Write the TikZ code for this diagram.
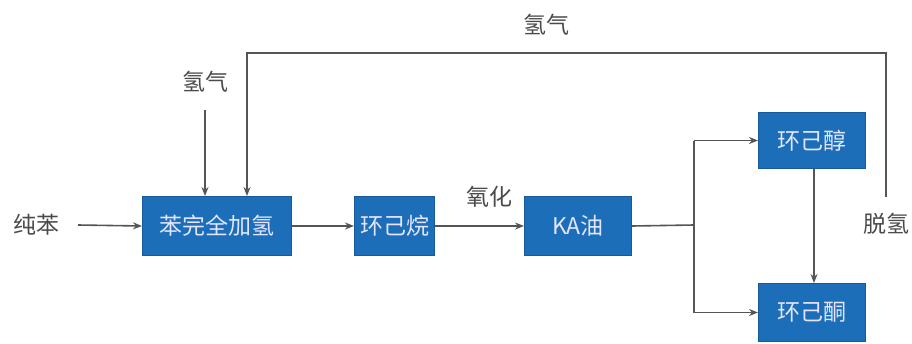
\documentclass[tikz,border=0pt]{standalone}
\usepackage{fontspec}
\setmainfont{Noto Sans CJK SC}
\usetikzlibrary{arrows.meta}
\definecolor{boxblue}{HTML}{1C6EB8}
\definecolor{boxedge}{HTML}{165A99}
\definecolor{linegray}{HTML}{555555}
\definecolor{txtgray}{HTML}{4A4A4A}
\begin{document}
\begin{tikzpicture}[x=1pt,y=-1pt,
  procbox/.style={draw=boxedge,line width=1pt,fill=boxblue,text=white!90!blue,font=\fontsize{23}{25}\selectfont,inner sep=0pt,anchor=north west},
  lbl/.style={text=txtgray,font=\fontsize{23}{25}\selectfont,inner sep=0pt},
  flow/.style={draw=linegray,line width=1.6pt,-{Stealth[length=9pt,width=7pt]}},
  plain/.style={draw=linegray,line width=1.6pt}]
\useasboundingbox (0,0) rectangle (912,343);
\node[procbox,minimum width=149pt,minimum height=59pt] (hyd) at (142,196) {苯完全加氢};
\node[procbox,minimum width=80pt,minimum height=59pt] (cyc) at (354,196) {环己烷};
\node[procbox,minimum width=107pt,minimum height=59pt] (ka) at (524,196) {KA油};
\node[procbox,minimum width=107pt,minimum height=56pt] (ol) at (758,112) {环己醇};
\node[procbox,minimum width=107pt,minimum height=58pt] (one) at (758,283) {环己酮};
\node[lbl] (benz) at (36,225) {纯苯};
\node[lbl] (h2a) at (205,82) {氢气};
\node[lbl] (h2b) at (546,25) {氢气};
\node[lbl] (ox) at (489,197) {氧化};
\node[lbl] (dehyd) at (886,224) {脱氢};
\coordinate (benzE) at (78,225);
\coordinate (h2aS) at (205,110);
\coordinate (split) at (694,225);
\coordinate (fbR) at (886,197);
\coordinate (fbTR) at (886,53);
\coordinate (fbTL) at (247,53);
\draw[flow] (benzE) -- (hyd.west);
\draw[flow] (h2aS) -- (h2aS |- hyd.north);
\draw[flow] (fbR) -- (fbTR) -- (fbTL) -- (fbTL |- hyd.north);
\draw[flow] (hyd.east) -- (cyc.west);
\draw[flow] (cyc.east) -- (ka.west);
\draw[plain] (ka.east) -- (split);
\draw[flow] (split |- ol.west) |- (ol.west);
\draw[plain] (split |- ol.west) -- (split |- one.west);
\draw[flow] (split |- one.west) -- (one.west);
\draw[flow] (ol.south -| 814,0) -- (one.north -| 814,0);
\end{tikzpicture}
\end{document}
